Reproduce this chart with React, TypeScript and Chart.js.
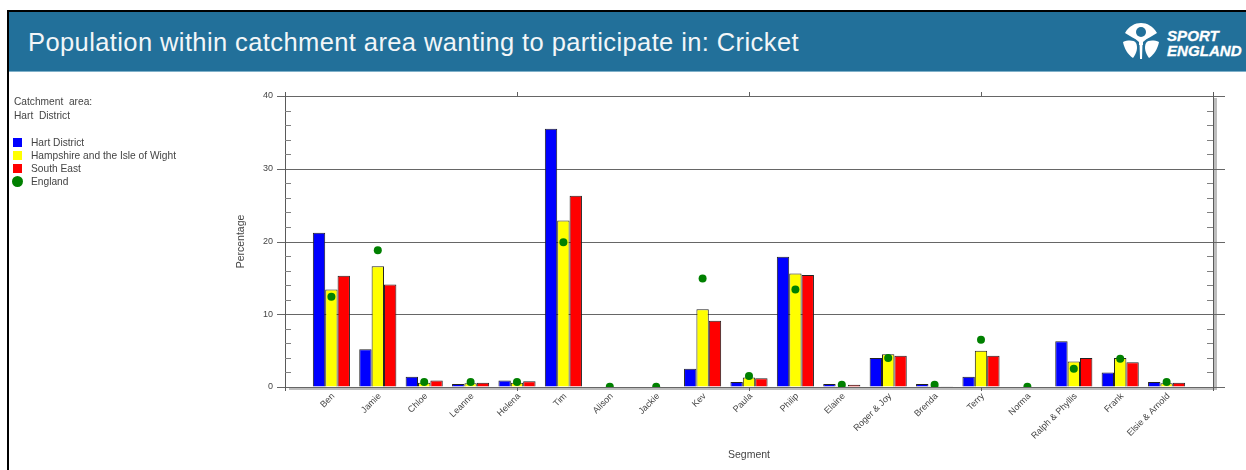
import React, { useEffect, useRef } from "react";
import { Chart, registerables } from "chart.js";

Chart.register(...registerables);

const titleText = "Population within catchment area wanting to participate in: Cricket";
const catchmentLines = ["Catchment  area:", "Hart  District"];
const categories = ["Ben", "Jamie", "Chloe", "Leanne", "Helena", "Tim", "Alison", "Jackie", "Kev", "Paula", "Philip", "Elaine", "Roger & Joy", "Brenda", "Terry", "Norma", "Ralph & Phyllis", "Frank", "Elsie & Arnold"];
const hartDistrict = [21.2, 5.2, 1.4, 0.4, 0.9, 35.5, 0, 0, 2.5, 0.7, 17.9, 0.4, 4.0, 0.4, 1.4, 0, 6.3, 2.0, 0.7];
const hampshire = [13.4, 16.6, 0.6, 0.5, 0.6, 22.9, 0, 0, 10.7, 1.3, 15.6, 0.1, 4.5, 0.1, 5.0, 0, 3.5, 4.0, 0.5];
const southEast = [15.3, 14.1, 0.9, 0.6, 0.8, 26.3, 0, 0, 9.1, 1.2, 15.4, 0.3, 4.3, 0.1, 4.3, 0, 4.0, 3.4, 0.6];
const england = [12.4, 18.8, 0.7, 0.7, 0.7, 19.9, 0.05, 0.05, 14.9, 1.5, 13.4, 0.3, 4.0, 0.3, 6.5, 0.05, 2.5, 3.9, 0.7];
const legendItems = [
  { name: "Hart District", color: "#0000ff", round: false },
  { name: "Hampshire and the Isle of Wight", color: "#ffff00", round: false },
  { name: "South East", color: "#ff0000", round: false },
  { name: "England", color: "#008000", round: true },
];
const minorTicks = [2, 4, 6, 8, 12, 14, 16, 18, 22, 24, 26, 28, 32, 34, 36, 38];
const majorTicks = [0, 10, 20, 30, 40];
const xMajorEvery = 5;

const FONT = "'Liberation Sans', Arial, sans-serif";
const HEADER = "#22709a";
const pad = (a: number[]) => [null, ...a, null];

const framePlugin = {
  id: "frame",
  beforeDatasetsDraw(chart: any) {
    const { ctx, chartArea: a, scales } = chart;
    const x = scales.x;
    const y = scales.y;
    ctx.save();
    // axis shadows
    ctx.fillStyle = "#bdbdbd";
    ctx.fillRect(a.left + 4, a.bottom + 1, a.right - a.left, 2);
    ctx.fillRect(a.right + 1, a.top + 2, 3, a.bottom - a.top);
    // major grid lines, running past the right-hand axis
    ctx.strokeStyle = "#666";
    ctx.lineWidth = 1;
    for (const v of majorTicks) {
      const py = Math.round(y.getPixelForValue(v)) + 0.5;
      ctx.beginPath();
      ctx.moveTo(a.left - 8, py);
      ctx.lineTo(a.right + 12, py);
      ctx.stroke();
    }
    // left and right axes
    ctx.strokeStyle = "#5a5a5a";
    for (const px of [a.left, a.right]) {
      ctx.beginPath();
      ctx.moveTo(px + 0.5, a.top - 4);
      ctx.lineTo(px + 0.5, a.bottom + 4);
      ctx.stroke();
    }
    // inward minor ticks
    ctx.strokeStyle = "#808080";
    for (const v of minorTicks) {
      const py = Math.round(y.getPixelForValue(v)) + 0.5;
      ctx.beginPath();
      ctx.moveTo(a.left, py);
      ctx.lineTo(a.left + 6, py);
      ctx.moveTo(a.right - 6, py);
      ctx.lineTo(a.right, py);
      ctx.stroke();
    }
    // major category ticks, top and bottom
    ctx.strokeStyle = "#606060";
    for (let i = xMajorEvery; i < categories.length + 1; i += xMajorEvery) {
      const px = Math.round(x.getPixelForValue(i)) + 0.5;
      ctx.beginPath();
      ctx.moveTo(px, a.top - 4);
      ctx.lineTo(px, a.top);
      ctx.moveTo(px, a.bottom);
      ctx.lineTo(px, a.bottom + 4);
      ctx.stroke();
    }
    ctx.restore();
  },
};

export default function App() {
  const ref = useRef<HTMLCanvasElement>(null);
  useEffect(() => {
    document.body.style.margin = "0";
    const chart = new Chart(ref.current!, {
      type: "bar",
      data: {
        labels: ["", ...categories, ""],
        datasets: [
          { type: "line", label: legendItems[3].name, data: pad(england), showLine: false, pointRadius: 4, pointHoverRadius: 4, pointBackgroundColor: legendItems[3].color, pointBorderColor: legendItems[3].color, pointBorderWidth: 0, backgroundColor: legendItems[3].color, order: 0 },
          { label: legendItems[0].name, data: pad(hartDistrict), backgroundColor: legendItems[0].color, borderColor: "#222", borderWidth: 1, order: 1 },
          { label: legendItems[1].name, data: pad(hampshire), backgroundColor: legendItems[1].color, borderColor: "#222", borderWidth: 1, order: 2 },
          { label: legendItems[2].name, data: pad(southEast), backgroundColor: legendItems[2].color, borderColor: "#222", borderWidth: 1, order: 3 },
        ] as any,
      },
      options: {
        animation: false,
        responsive: false,
        layout: { padding: { left: 231, right: 33, top: 96, bottom: 9 } },
        datasets: { bar: { barPercentage: 1, categoryPercentage: 0.8 } },
        plugins: { legend: { display: false }, title: { display: false }, tooltip: { enabled: false } },
        scales: {
          x: {
            offset: false,
            grid: { display: false },
            border: { display: false },
            title: { display: true, text: "Segment", color: "#444", font: { family: FONT, size: 10.5 }, padding: { top: 0, bottom: 0 } },
            ticks: { autoSkip: false, minRotation: 45, maxRotation: 45, color: "#444", padding: -4, labelOffset: 2, font: { family: FONT, size: 9 } },
            afterFit(s: any) { s.height = 74; s.paddingLeft = 0; s.paddingRight = 0; },
          },
          y: {
            min: 0,
            max: 40,
            grid: { drawOnChartArea: false, drawTicks: false, tickLength: 8 },
            border: { display: false },
            title: { display: true, text: "Percentage", color: "#444", font: { family: FONT, size: 10.5 }, padding: { top: 4, bottom: 0 } },
            ticks: { stepSize: 10, color: "#444", padding: 12, font: { family: FONT, size: 9 } },
            afterFit(s: any) { s.width = 54; s.paddingTop = 0; s.paddingBottom = 0; },
          },
        },
      } as any,
      plugins: [framePlugin],
    });
    return () => chart.destroy();
  }, []);

  return (
    <div style={{ position: "relative", width: 1246, height: 470, overflow: "hidden", background: "#fff", fontFamily: FONT }}>
      <canvas ref={ref} width={1246} height={470} style={{ position: "absolute", left: 0, top: 0, width: 1246, height: 470, filter: "blur(0.35px)" }} />
      <div style={{ position: "absolute", left: 7, top: 10, width: 2, height: 460, background: "#000" }} />
      <div style={{ position: "absolute", left: 7, top: 10, width: 1239, height: 2, background: "#000" }} />
      <div style={{ position: "absolute", left: 9, top: 12, width: 1237, height: 59, background: HEADER, borderBottom: "1px solid #7fb0c9" }} />
      <div style={{ position: "absolute", left: 28, top: 27, fontSize: 25.5, lineHeight: "30px", color: "#f2f6f8", whiteSpace: "nowrap", letterSpacing: "0.4px" }}>{titleText}</div>
      <svg style={{ position: "absolute", left: 1123, top: 23 }} width="36" height="37" viewBox="0 0 36 37">
        <path fill="#fff" d="M2 10 C6 3 12 0 18 0 C24 0 30 3 34 10 C30 13 24 15 20 19 L20 22 L16 22 L16 19 C12 15 6 13 2 10 Z" />
        <circle cx="18" cy="9" r="5" fill={HEADER} />
        <path fill="#fff" d="M16.5 20 L19.5 20 L19 36 L17 36 Z" />
        <path fill="#fff" d="M0 19 C5 17 11 17 13 20 C15 24 14 30 10 35 C5 32 1 25 0 19 Z" />
        <path fill="#fff" d="M36 19 C31 17 25 17 23 20 C21 24 22 30 26 35 C31 32 35 25 36 19 Z" />
      </svg>
      <div style={{ position: "absolute", left: 1167, top: 28, fontSize: 15.1, lineHeight: "15px", fontWeight: 700, fontStyle: "italic", color: "#fff", WebkitTextStroke: "0.3px #fff" }}>
        <div>SPORT</div>
        <div>ENGLAND</div>
      </div>
      <div style={{ position: "absolute", left: 14, top: 95, fontSize: 10.2, lineHeight: "14px", color: "#444", whiteSpace: "pre" }}>
        {catchmentLines.map((l) => <div key={l}>{l}</div>)}
      </div>
      {legendItems.map((it, i) => (
        <div key={it.name} style={{ position: "absolute", left: 0, top: [136, 149, 162, 175][i], height: 13 }}>
          <div style={{ position: "absolute", left: it.round ? 12 : 13, top: it.round ? 1 : 2, width: it.round ? 11 : 9, height: it.round ? 11 : 9, borderRadius: it.round ? "50%" : 0, background: it.color }} />
          <div style={{ position: "absolute", left: 31, top: 0, fontSize: 10.2, lineHeight: "13px", color: "#444", whiteSpace: "nowrap" }}>{it.name}</div>
        </div>
      ))}
    </div>
  );
}
